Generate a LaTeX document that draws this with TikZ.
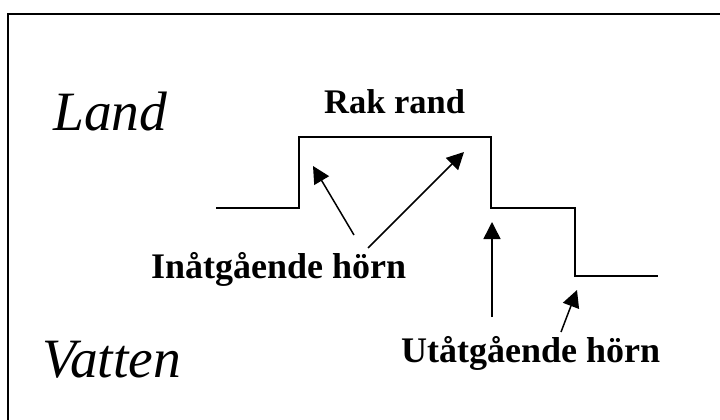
\documentclass[tikz,border=0pt]{standalone}
\usepackage{fontspec}
\setmainfont{Liberation Serif}
\usetikzlibrary{arrows.meta}
\begin{document}
\begin{tikzpicture}[x=1pt,y=-1pt,
  coast/.style={line width=2pt, line join=miter},
  pointer/.style={line width=1.5pt, -{Triangle[length=17pt,width=17pt]}},
  bigital/.style={font=\fontsize{55.5}{60}\selectfont\itshape, anchor=base west, inner sep=0pt},
  boldlabel/.style={font=\fontsize{36}{40}\selectfont\bfseries, anchor=base west, inner sep=0pt}]
\useasboundingbox (0,0) rectangle (720,420);
\begin{scope}
  \clip (0,0) rectangle (720,420);
  \draw[line width=2pt] (7.5,14) rectangle (740,440);
\end{scope}
% coastline corners
\coordinate (c0) at (216,208);
\coordinate (c1) at (299,208);
\coordinate (c2) at (299,137);
\coordinate (c3) at (491,137);
\coordinate (c4) at (491,208);
\coordinate (c5) at (575,208);
\coordinate (c6) at (575,276);
\coordinate (c7) at (658,276);
\draw[coast] (c0) -- (c1) -- (c2) -- (c3) -- (c4) -- (c5) -- (c6) -- (c7);
% labels
\node[bigital] (land) at (53,130) {Land};
\node[bigital] (vatten) at (42,377) {Vatten};
\node[boldlabel, font=\fontsize{34.5}{40}\selectfont\bfseries] (rak) at (324,113) {Rak rand};
\node[boldlabel] (inat) at (151,278) {Inåtgående hörn};
\node[boldlabel] (utat) at (401,362) {Utåtgående hörn};
% arrow ends
\coordinate (t1) at (354,235);
\coordinate (h1) at (313,166);
\coordinate (t2) at (368,248);
\coordinate (h2) at (464,152);
\coordinate (t3) at (492,317);
\coordinate (h3) at (492,222);
\coordinate (t4) at (561,332);
\coordinate (h4) at (577,290);
\draw[pointer] (t1) -- (h1);
\draw[pointer] (t2) -- (h2);
\draw[pointer] (t3) -- (h3);
\draw[pointer] (t4) -- (h4);
\end{tikzpicture}
\end{document}
